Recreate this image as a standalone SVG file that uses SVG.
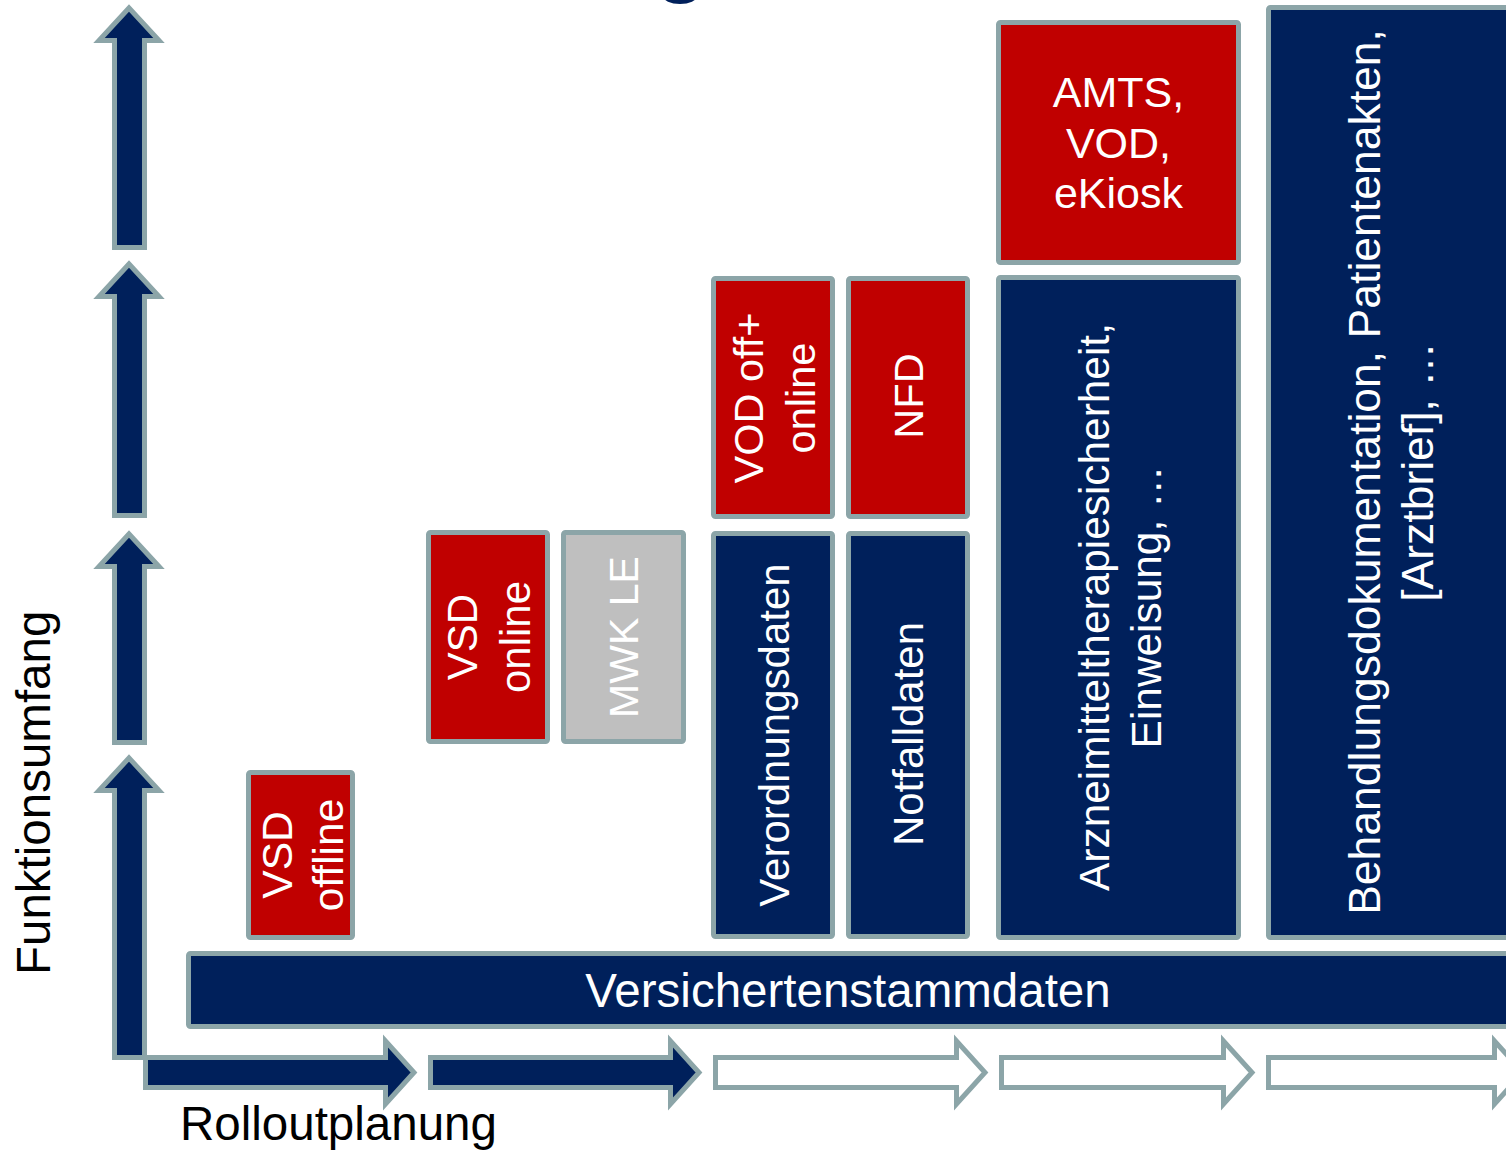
<svg xmlns="http://www.w3.org/2000/svg" width="1506" height="1151" viewBox="0 0 1506 1151">
<style>
.box{stroke:#8CA5A8;stroke-width:5;stroke-linejoin:round}
.navy{fill:#00205B}
.red{fill:#C00000}
.grey{fill:#BFBFBF}
.arr{stroke:#8CA5A8;stroke-width:5;stroke-linejoin:miter}
.open{fill:#FFFFFF}
.t{font-family:"Liberation Sans",Arial,sans-serif;fill:#FFFFFF;text-anchor:middle}
.lbl{font-family:"Liberation Sans",Arial,sans-serif;fill:#000000;font-size:47.5px}
</style>
<rect width="1506" height="1151" fill="#FFFFFF"/>
<ellipse cx="680" cy="-4" rx="17" ry="8" fill="#00205B"/>

<g id="connectors">
  <path class="arr navy" d="M114.5,247.5 V40.5 H99 L129,8 L159,40.5 H144.5 V247.5 Z"/>
  <path class="arr navy" d="M114.5,515.5 V296.5 H99 L129,264 L159,296.5 H144.5 V515.5 Z"/>
  <path class="arr navy" d="M114.5,742.5 V566.5 H99 L129,534 L159,566.5 H144.5 V742.5 Z"/>
  <path class="arr navy" d="M114.5,1057.5 V790.5 H99 L129,758 L159,790.5 H144.5 V1057.5 Z"/>
  <path class="arr navy" d="M145.5,1057.5 H385.5 V1041 L414,1072.5 L385.5,1104 V1087.5 H145.5 Z"/>
  <path class="arr navy" d="M430.5,1057.5 H670.5 V1041 L699,1072.5 L670.5,1104 V1087.5 H430.5 Z"/>
  <path class="arr open" d="M715.5,1057.5 H956.5 V1041 L985,1072.5 L956.5,1104 V1087.5 H715.5 Z"/>
  <path class="arr open" d="M1001.5,1057.5 H1223.5 V1041 L1252,1072.5 L1223.5,1104 V1087.5 H1001.5 Z"/>
  <path class="arr open" d="M1268.5,1057.5 H1494.5 V1041 L1523,1072.5 L1494.5,1104 V1087.5 H1268.5 Z"/>
</g>

<g id="vsd-stamm">
  <rect class="box navy" x="188.5" y="953.5" width="1330" height="73" rx="2"/>
  <text class="t" x="848" y="1007" font-size="47.5">Versichertenstammdaten</text>
</g>

<g id="vsd-offline">
  <rect class="box red" x="248.5" y="772.5" width="104" height="165" rx="2"/>
  <text class="t" font-size="42.5" transform="translate(292,855) rotate(-90)"><tspan x="0" y="0">VSD</tspan><tspan x="0" y="51">offline</tspan></text>
</g>

<g id="vsd-online">
  <rect class="box red" x="428.5" y="532.5" width="119" height="209" rx="2"/>
  <text class="t" font-size="42" transform="translate(477,637) rotate(-90)"><tspan x="0" y="0">VSD</tspan><tspan x="0" y="53">online</tspan></text>
</g>

<g id="mwk-le">
  <rect class="box grey" x="563.5" y="532.5" width="120" height="209" rx="2"/>
  <text class="t" font-size="41" fill="#F2F2F2" transform="translate(638,637) rotate(-90)">MWK LE</text>
</g>

<g id="vod">
  <rect class="box red" x="713.5" y="278.5" width="119" height="238" rx="2"/>
  <text class="t" font-size="41.5" transform="translate(763,398) rotate(-90)"><tspan x="0" y="0">VOD off+</tspan><tspan x="0" y="52">online</tspan></text>
</g>

<g id="nfd">
  <rect class="box red" x="848.5" y="278.5" width="119" height="238" rx="2"/>
  <text class="t" font-size="41.5" transform="translate(923,396) rotate(-90)">NFD</text>
</g>

<g id="verordnungsdaten">
  <rect class="box navy" x="713.5" y="533.5" width="119" height="403" rx="2"/>
  <text class="t" font-size="42" transform="translate(789,735) rotate(-90)">Verordnungsdaten</text>
</g>

<g id="notfalldaten">
  <rect class="box navy" x="848.5" y="533.5" width="119" height="403" rx="2"/>
  <text class="t" font-size="42" transform="translate(923,734) rotate(-90)">Notfalldaten</text>
</g>

<g id="amts">
  <rect class="box red" x="998.5" y="22.5" width="240" height="240" rx="2"/>
  <text class="t" font-size="43"><tspan x="1118.5" y="107">AMTS,</tspan><tspan x="1118.5" y="158">VOD,</tspan><tspan x="1118.5" y="208">eKiosk</tspan></text>
</g>

<g id="amtssicherheit">
  <rect class="box navy" x="998.5" y="277.5" width="240" height="660" rx="2"/>
  <text class="t" font-size="42.4" transform="translate(1109,607) rotate(-90)"><tspan x="0" y="0">Arzneimitteltherapiesicherheit,</tspan><tspan x="0" y="52">Einweisung, …</tspan></text>
</g>

<g id="behandlung">
  <rect class="box navy" x="1268.5" y="7.5" width="260" height="930" rx="2"/>
  <text class="t" font-size="44.5" transform="translate(1380,472) rotate(-90)"><tspan x="0" y="0">Behandlungsdokumentation, Patientenakten,</tspan><tspan x="0" y="53">[Arztbrief], …</tspan></text>
</g>

<g id="axis-labels">
  <text class="lbl" x="180" y="1140">Rolloutplanung</text>
  <text class="lbl" transform="translate(50,975) rotate(-90)">Funktionsumfang</text>
</g>
</svg>
